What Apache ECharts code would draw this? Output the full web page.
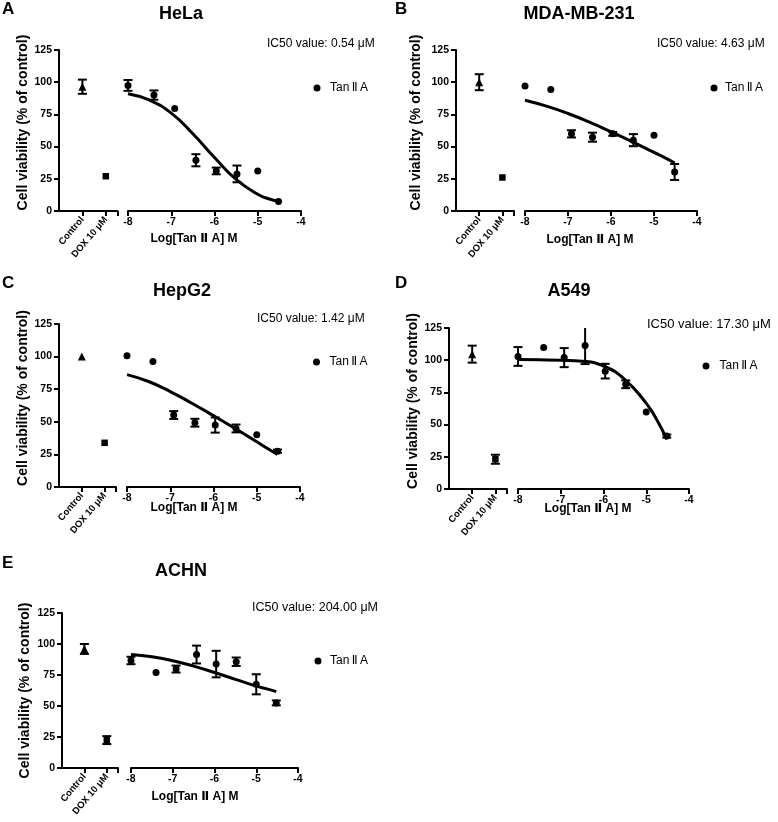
<!DOCTYPE html>
<html><head><meta charset="utf-8">
<script src="https://cdn.jsdelivr.net/npm/echarts@6/dist/echarts.min.js"></script>
<style>html,body{margin:0;padding:0;background:#fff}#c{width:778px;height:822px}</style>
</head><body><div id="c"></div>
<script>
const FONT = "'Liberation Sans', Arial, 'DejaVu Sans', sans-serif";

// ---- data ----
const concLog = [-8, -7.4, -6.92, -6.43, -5.96, -5.48, -5, -4.52];
const curveLog = [-8, -7.5, -7, -6.5, -6, -5.5, -5, -4.75, -4.52];
const groupLabels = ['Control', 'DOX 10 μM'];
const cellLines = ['HeLa', 'MDA-MB-231', 'HepG2', 'A549', 'ACHN'];
const panelLetters = ['A', 'B', 'C', 'D', 'E'];
const ic50Labels = ['IC50 value: 0.54 μM', 'IC50 value: 4.63 μM', 'IC50 value: 1.42 μM', 'IC50 value: 17.30 μM', 'IC50 value: 204.00 μM'];
const seriesName = 'TanⅡA';
const yMin = 0, yMax = 125, yStep = 25;
const xMin = -8, xMax = -4, xStep = 1;

const helaMean = [97.5, 90, 79.6, 39.4, 31.1, 28.8, 31.1, 7.3];
const helaErr  = [4.2, 3.6, 0, 4.7, 2.6, 6.5, 0, 0];
const helaCtrl = [96.5, 5.5];
const helaDox  = [27, 0];
const helaCurve = [91, 86, 76, 60, 41.5, 24.5, 13, 9.5, 7.5];

const mdaMean = [97, 94.4, 59.9, 57.3, 59.9, 55, 58.9, 30.3];
const mdaErr  = [0, 0, 2.8, 3.5, 1.5, 4.7, 0, 6.2];
const mdaCtrl = [100, 6.2];
const mdaDox  = [26, 0];
const mdaCurve = [86, 81.4, 75.7, 69, 61.5, 53.7, 45.5, 41.5, 37.3];

const hepMean = [100.6, 96.3, 55.2, 49.3, 47.5, 44.9, 40, 27.5];
const hepErr  = [0, 0, 3, 3, 5.8, 3, 0, 1.2];
const hepCtrl = [100, 0];
const hepDox  = [33.9, 0];
const hepCurve = [86.2, 80.9, 73.2, 64.2, 54.7, 44.9, 34.7, 29.5, 25];

const a549Mean = [102.9, 109.9, 102, 111.5, 91.5, 81.3, 59.8, 41.1];
const a549Err  = [7.3, 0, 7.4, 14.5, 5.7, 3, 0, 1.2];
const a549Ctrl = [104.7, 6.6];
const a549Dox  = [23.1, 3.5];
const a549Curve = [100.5, 100.3, 100, 99.2, 95.5, 85, 66.5, 53.5, 38.5];

const achnMean = [86.7, 77.1, 79.8, 91.5, 83.8, 85.7, 67.5, 52.5];
const achnErr  = [3, 0, 2.8, 7.2, 10.7, 3.4, 8.1, 2];
const achnCtrl = [96, 4];
const achnDox  = [22.5, 3.2];
const achnCurve = [91.5, 89.7, 86.5, 82.2, 77, 71.5, 66, 63.8, 61.6];

const datasets = [
  {mean: helaMean, err: helaErr, ctrl: helaCtrl, dox: helaDox, curve: helaCurve},
  {mean: mdaMean, err: mdaErr, ctrl: mdaCtrl, dox: mdaDox, curve: mdaCurve},
  {mean: hepMean, err: hepErr, ctrl: hepCtrl, dox: hepDox, curve: hepCurve},
  {mean: a549Mean, err: a549Err, ctrl: a549Ctrl, dox: a549Dox, curve: a549Curve},
  {mean: achnMean, err: achnErr, ctrl: achnCtrl, dox: achnDox, curve: achnCurve}
];

// ---- layout ----
const layouts = [
  {ax:59,  top:50,  bot:211, lEnd:117.5, r0:128, r1:301, letter:[2,9],     title:[181,14.5], ic:[267,43.5,12], lg:[313.5,89,4.5], xn:[194,239], yg:26, ys:8},
  {ax:456, top:50,  bot:211, lEnd:514,   r0:525, r1:697, letter:[395,9],   title:[579,14.5], ic:[657,44,12],   lg:[710.5,89,2.5], xn:[590,240], yg:33, ys:8},
  {ax:59,  top:324, bot:487, lEnd:116,   r0:127, r1:300, letter:[2,283.5], title:[182,291],  ic:[257,319,12],  lg:[313,363,4.5],  xn:[194,508], yg:26, ys:7.5},
  {ax:449, top:328, bot:489, lEnd:507,   r0:518, r1:689, letter:[395,283.5], title:[569,291], ic:[647,324,13], lg:[702.5,367,5],  xn:[588,509], yg:26, ys:7.5},
  {ax:62,  top:613, bot:768, lEnd:118,   r0:131, r1:298, letter:[2,563.5], title:[181,571],  ic:[252,608,12.5], lg:[314.5,662,3.5], xn:[195,797], yg:30, ys:0}
];

const BLACK = '#000';
const axisLineStyle = {color: BLACK, width: 2};

function renderErr(params, api) {
  const x = api.value(0), lo = api.value(1), hi = api.value(2);
  const clipped = hi > yMax;
  const pLo = api.coord([x, lo]);
  const pHi = api.coord([x, clipped ? yMax : hi]);
  const w = 4.5;
  const style = {stroke: BLACK, lineWidth: 2};
  const children = [
    {type: 'line', shape: {x1: pLo[0], y1: pLo[1], x2: pHi[0], y2: pHi[1]}, style},
    {type: 'line', shape: {x1: pLo[0] - w, y1: pLo[1], x2: pLo[0] + w, y2: pLo[1]}, style}
  ];
  if (!clipped) children.push({type: 'line', shape: {x1: pHi[0] - w, y1: pHi[1], x2: pHi[0] + w, y2: pHi[1]}, style});
  return {type: 'group', children};
}

const grid = [], xAxis = [], yAxis = [], series = [], title = [], legend = [];
const txt = (size, weight) => ({fontSize: size, fontWeight: weight || 'normal', color: BLACK, fontFamily: FONT});
const spaced = (s, sp) => s.replace('Ⅱ', sp + 'Ⅱ' + sp);
const pointStyle = {color: BLACK, opacity: 1};

layouts.forEach((L, i) => {
  const D = datasets[i];
  const g = grid.length;
  grid.push({left: L.ax, top: L.top, width: L.lEnd - L.ax, height: L.bot - L.top, containLabel: false, outerBoundsMode: 'none'});
  grid.push({left: L.r0, top: L.top, width: L.r1 - L.r0, height: L.bot - L.top, containLabel: false, outerBoundsMode: 'none'});

  xAxis.push({
    gridIndex: g, type: 'value', min: 0, max: 2.5,
    axisLine: {onZero: false, lineStyle: axisLineStyle},
    axisTick: {show: true, customValues: [1, 2, 2.5], length: 5, lineStyle: axisLineStyle},
    axisLabel: Object.assign({customValues: [1, 2], formatter: v => groupLabels[Math.round(v) - 1], rotate: 50, margin: 7}, txt(9.5, 'bold')),
    splitLine: {show: false}
  });
  xAxis.push({
    gridIndex: g + 1, type: 'value', min: xMin, max: xMax, interval: xStep,
    axisLine: {onZero: false, lineStyle: axisLineStyle},
    axisTick: {show: true, length: 5, lineStyle: axisLineStyle},
    axisLabel: Object.assign({margin: 6}, txt(10.5, 'bold')),
    splitLine: {show: false}
  });
  yAxis.push({
    gridIndex: g, type: 'value', min: yMin, max: yMax, interval: yStep,
    name: 'Cell viability (% of control)', nameLocation: 'middle', nameRotate: 90, nameGap: L.yg,
    nameTextStyle: Object.assign({padding: [0, 0, 0, 2 * L.ys]}, txt(14, 'bold')),
    axisLine: {show: true, lineStyle: axisLineStyle},
    axisTick: {show: true, length: 5, lineStyle: axisLineStyle},
    axisLabel: Object.assign({margin: 7}, txt(10.5, 'bold')),
    splitLine: {show: false}
  });
  yAxis.push({gridIndex: g + 1, type: 'value', min: yMin, max: yMax, show: false});

  // control & DOX
  series.push({type: 'scatter', name: groupLabels[0], xAxisIndex: g, yAxisIndex: g, symbol: 'triangle', symbolSize: 8,
    itemStyle: pointStyle, data: [[1, D.ctrl[0]]], z: 3});
  series.push({type: 'scatter', name: groupLabels[1], xAxisIndex: g, yAxisIndex: g, symbol: 'rect', symbolSize: 6.5,
    itemStyle: pointStyle, data: [[2, D.dox[0]]], z: 3});
  const leftErr = [];
  if (D.ctrl[1] > 0) leftErr.push([1, D.ctrl[0] - D.ctrl[1], D.ctrl[0] + D.ctrl[1]]);
  if (D.dox[1] > 0) leftErr.push([2, D.dox[0] - D.dox[1], D.dox[0] + D.dox[1]]);
  series.push({type: 'custom', xAxisIndex: g, yAxisIndex: g, renderItem: renderErr, encode: {x: 0, y: [1, 2]}, data: leftErr, z: 2});

  // fitted curve
  series.push({type: 'line', xAxisIndex: g + 1, yAxisIndex: g + 1, smooth: true, symbol: 'none', clip: false,
    lineStyle: {color: BLACK, width: 3}, data: curveLog.map((x, k) => [x, D.curve[k]]), z: 1});
  // Tan II A points
  series.push({type: 'scatter', name: seriesName, xAxisIndex: g + 1, yAxisIndex: g + 1, symbol: 'circle', symbolSize: 7,
    itemStyle: pointStyle, data: concLog.map((x, k) => [x, D.mean[k]]), z: 3});
  const rightErr = [];
  concLog.forEach((x, k) => { if (D.err[k] > 0) rightErr.push([x, D.mean[k] - D.err[k], D.mean[k] + D.err[k]]); });
  series.push({type: 'custom', xAxisIndex: g + 1, yAxisIndex: g + 1, renderItem: renderErr, encode: {x: 0, y: [1, 2]}, data: rightErr, z: 2});

  // texts
  title.push({text: panelLetters[i], left: L.letter[0], top: L.letter[1], textAlign: 'left', textVerticalAlign: 'middle', padding: 0, textStyle: txt(17, 'bold')});
  title.push({text: cellLines[i], left: L.title[0], top: L.title[1], textAlign: 'center', textVerticalAlign: 'middle', padding: 0, textStyle: txt(18, 'bold')});
  title.push({text: ic50Labels[i], left: L.ic[0], top: L.ic[1], textAlign: 'left', textVerticalAlign: 'middle', padding: 0, textStyle: txt(L.ic[2])});
  title.push({text: 'Log[' + spaced(seriesName, ' ') + '] M', left: L.xn[0], top: L.xn[1], textAlign: 'center', textVerticalAlign: 'middle', padding: 0,
    textStyle: txt(12, 'bold')});

  legend.push({data: [{name: seriesName, icon: 'circle'}], left: L.lg[0], top: L.lg[1] - 7, padding: 0, itemWidth: 7, itemHeight: 7,
    selectedMode: false, formatter: n => spaced(n, '\u2009'),
    textStyle: Object.assign({padding: [0, 0, 0, L.lg[2]]}, txt(12))});
});

const chart = echarts.init(document.getElementById('c'), null, {renderer: 'canvas'});
chart.setOption({animation: false, backgroundColor: '#fff', grid, xAxis, yAxis, series, title, legend});
</script>
</body></html>
